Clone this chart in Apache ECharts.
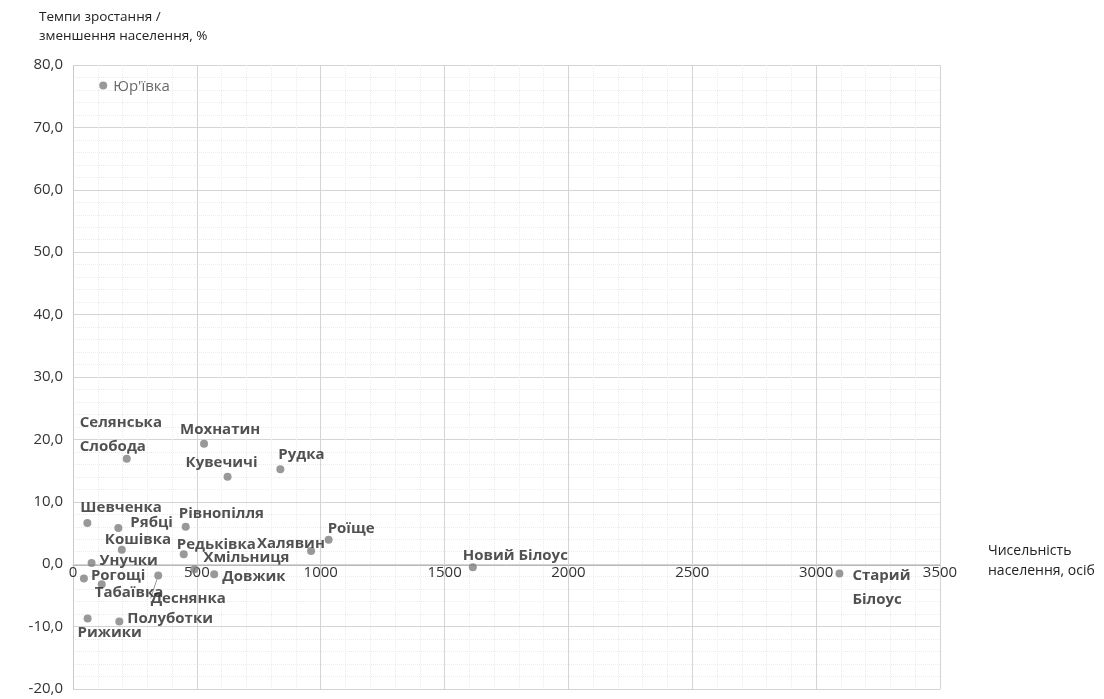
<!DOCTYPE html>
<html>
<head>
<meta charset="utf-8">
<script src="https://cdn.jsdelivr.net/npm/echarts@6/dist/echarts.min.js"></script>
<style>html,body{margin:0;padding:0;background:#fff;}#c{width:1104px;height:699px;}</style>
</head>
<body>
<div id="c"></div>
<script>
// Data
const names = ["Юр'ївка","Селянська\nСлобода","Мохнатин","Кувечичі","Рудка","Шевченка","Рябці","Рівнопілля","Кошівка","Редьківка","Халявин","Роїще","Унучки","Хмільниця","Довжик","Рогощі","Табаївка","Деснянка","Рижики","Полуботки","Новий Білоус","Старий\nБілоус"];
const population = [122,217,529,624,837,58,183,455,197,447,961,1032,75,490,570,44,116,344,59,187,1614,3094];
const growthRate = [76.7,16.9,19.3,14.0,15.2,6.6,5.8,6.0,2.3,1.6,2.1,3.9,0.2,-0.8,-1.6,-2.3,-3.2,-1.8,-8.7,-9.2,-0.5,-1.5];
const xTicks = {min:0,max:3500,interval:500};
const yTicks = {min:-20,max:80,interval:10};
const yTitle = "Темпи зростання /\nзменшення населення, %";
const xTitle = "Чисельність\nнаселення, осіб";

// Label placement (style only), offsets relative to the symbol box
const labelPlace = {
  "Юр'ївка":[14,-7], "Селянська\nСлобода":[-43,-44], "Мохнатин":[-20,-22], "Кувечичі":[-38,-22],
  "Рудка":[2,-23], "Шевченка":[-3,-23], "Рябці":[16,-13], "Рівнопілля":[-3,-21], "Кошівка":[-13,-18],
  "Редьківка":[-3,-17], "Халявин":[-50,-15], "Роїще":[3,-19], "Унучки":[12,-10], "Хмільниця":[13,-19],
  "Довжик":[12,-5], "Рогощі":[11,-11], "Табаївка":[-3,1], "Рижики":[-6,6], "Полуботки":[12,-11],
  "Новий Білоус":[-6,-20], "Старий\nБілоус":[17,-6]
};
const leaderLabels = {"Деснянка":[30,2]};

const data = names.map((n,i)=>{
  const item = {name:n, value:[population[i], growthRate[i]]};
  if (labelPlace[n]) {
    item.label = {position: labelPlace[n]};
    item.labelLine = {show:false};
  } else {
    item.label = {position: 'bottom'};
    item.labelLine = {show:true};
  }
  if (n === "Юр'ївка") { item.label.fontWeight = 'normal'; item.label.color = '#444'; }
  return item;
});

const chart = echarts.init(document.getElementById('c'), null, {renderer:'canvas'});
const labelFont = "'Open Sans', 'Noto Sans', sans-serif";
chart.setOption({
  animation:false,
  backgroundColor:'#fff',
  title:[
    {text:yTitle, left:34, top:3, textStyle:{fontSize:13.5, fontWeight:'normal', color:'#222', lineHeight:19, fontFamily:labelFont}},
    {text:xTitle, left:983, top:536, textStyle:{fontSize:14, fontWeight:'normal', color:'#222', lineHeight:20, fontFamily:labelFont}}
  ],
  grid:{left:73, right:164, top:65, bottom:10, containLabel:false},
  xAxis:{
    type:'value', min:xTicks.min, max:xTicks.max, interval:xTicks.interval,
    axisLine:{show:true, onZero:false, lineStyle:{color:'#b8b8b8'}},
    axisTick:{show:false},
    axisLabel:{fontSize:15, color:'#333', margin:0, fontFamily:labelFont, formatter:v=>String(v)},
    splitLine:{show:true, lineStyle:{color:'#d4d4d4'}},
    minorSplitLine:{show:true, lineStyle:{color:'#ececec', type:'dotted'}},
    minorTick:{show:false, splitNumber:5}
  },
  yAxis:{
    type:'value', min:yTicks.min, max:yTicks.max, interval:yTicks.interval,
    axisLine:{show:true, onZero:false, lineStyle:{color:'#c8c8c8', type:'dotted'}},
    axisTick:{show:false},
    axisLabel:{fontSize:15, color:'#333', margin:10, fontFamily:labelFont,
      formatter:v=>v.toFixed(1).replace('.',',')},
    splitLine:{show:true, lineStyle:{color:'#d4d4d4'}},
    minorSplitLine:{show:true, lineStyle:{color:'#ececec', type:'dotted'}},
    minorTick:{show:false, splitNumber:5}
  },
  series:[{
    type:'scatter',
    symbolSize:8,
    itemStyle:{color:'#7f7f7f'},
    data:data,
    label:{show:true, formatter:p=>p.name, fontSize:15, fontWeight:'bold', color:'#262626',
      fontFamily:labelFont, lineHeight:24},
    labelLine:{show:false, length2:0, lineStyle:{color:'#999', width:1}},
    labelLayout:function(p){
      const d = leaderLabels[names[p.dataIndex]];
      if (d) { return {dx:d[0], dy:d[1]}; }
      return {};
    }
  }]
});
// Put the x axis (line + labels) on the y = 0 line, using the library's own scale
const yZero = chart.convertToPixel({yAxisIndex:0}, 0);
const yBottom = chart.convertToPixel({yAxisIndex:0}, yTicks.min);
chart.setOption({xAxis:{offset: -(yBottom - yZero)}});
</script>
</body>
</html>
